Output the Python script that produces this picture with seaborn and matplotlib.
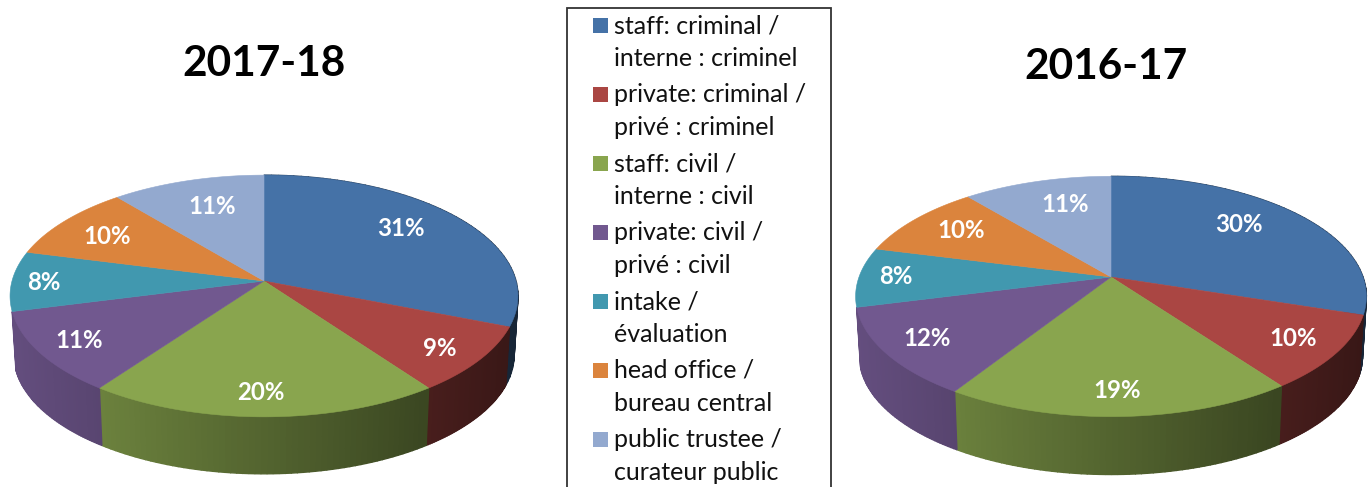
import numpy as np
import matplotlib
matplotlib.use('Agg')
import matplotlib.pyplot as plt
from matplotlib.patches import Rectangle
import seaborn as sns

# values, in percent
years = ['2017-18', '2016-17']
shares_2017 = [31, 9, 20, 11, 8, 10, 11]
shares_2016 = [30, 10, 19, 12, 8, 10, 11]
legend_en = ['staff: criminal /', 'private: criminal /', 'staff: civil /', 'private: civil /',
             'intake /', 'head office /', 'public trustee /']
legend_fr = ['interne : criminel', 'privé : criminel', 'interne : civil', 'privé : civil',
             'évaluation', 'bureau central', 'curateur public']
slice_colors = ['#4572A7', '#AA4643', '#89A54E', '#71588F', '#4198AF', '#DB843D', '#93A9CF']

# label centres in pixels
labels_2017 = [(401, 228), (440, 349), (261, 393), (79, 341), (44, 283), (107, 237), (212, 207)]
labels_2016 = [(1239, 224), (1293, 338), (1117, 391), (927, 338), (896, 277), (961, 231), (1065, 205)]

sns.set_theme(style='white')
plt.rcParams['font.family'] = ['Lato', 'DejaVu Sans']
palette = sns.color_palette(slice_colors)

fig = plt.figure(figsize=(13.69, 4.87), dpi=100)
ax = fig.add_axes([0, 0, 1, 1])
ax.set_xlim(0, 1369)
ax.set_ylim(487, 0)
ax.set_axis_off()


def project(theta, cx, cy, a, b, k, scale=1.0, drop=0.0):
    # tilted disc: angle runs clockwise from 12 o'clock, far side is squeezed
    u = np.sin(theta)
    v = np.cos(theta)
    w = 1 + k * v
    return cx + scale * a * u / w, cy + drop - scale * b * v / w


def pie_3d(shares, cx, cy, a, b, k, drop):
    edges = np.cumsum([0] + list(shares)) / sum(shares) * 2 * np.pi

    # side wall, shaded from left to right; only slices ending before 9 o'clock show one
    for i, color in enumerate(palette):
        if edges[i + 1] > 1.5 * np.pi:
            continue
        thetas = np.linspace(edges[i], edges[i + 1], 60)
        for t0, t1 in zip(thetas[:-1], thetas[1:]):
            x_top, y_top = project(np.array([t0, t1]), cx, cy, a, b, k)
            x_bot, y_bot = project(np.array([t1, t0]), cx, cy, a, b, k, scale=0.985, drop=drop)
            frac = (x_top.mean() - (cx - a)) / (2 * a)
            shade = 0.88 - 0.55 * frac
            c = tuple(np.array(color) * shade)
            ax.fill(np.r_[x_top, x_bot], np.r_[y_top, y_bot], color=c, lw=1.0)

    # top face
    for i, color in enumerate(palette):
        thetas = np.linspace(edges[i], edges[i + 1], 120)
        x, y = project(thetas, cx, cy, a, b, k)
        ax.fill(np.r_[cx, x], np.r_[cy, y], color=color, lw=0.4)


pie_3d(shares_2017, 264, 281, 252, 119, 0.124, 59)
pie_3d(shares_2016, 1111, 277, 252, 117, 0.162, 60)

for shares, spots in zip([shares_2017, shares_2016], [labels_2017, labels_2016]):
    for value, (x, y) in zip(shares, spots):
        ax.text(x, y, f'{value}%', color='white', fontsize=17.3, fontweight='bold',
                ha='center', va='center')

ax.text(264, 64, years[0], fontsize=30.5, fontweight='bold', color='black', ha='center', va='center')
ax.text(1106, 67, years[1], fontsize=30.5, fontweight='bold', color='black', ha='center', va='center')

# what is left of the cropped heading at the top edge
for x, glyph in [(513, 'p'), (830, 'y'), (900, 'p')]:
    ax.text(x, -5, glyph, fontsize=24, fontweight='bold', color='black', ha='center', va='baseline')

# legend box runs off the bottom of the page
ax.add_patch(Rectangle((567, 8), 264, 500, facecolor='white', edgecolor='#333333', lw=1.3, zorder=3))
for i, color in enumerate(palette):
    base = 33 + 69 * i
    ax.add_patch(Rectangle((593, base - 15), 15, 15, facecolor=color, edgecolor='none', zorder=4))
    ax.text(614, base, legend_en[i], fontsize=18, color='#111111', va='baseline', zorder=4)
    ax.text(614, base + 33, legend_fr[i], fontsize=18, color='#111111', va='baseline', zorder=4)

fig.savefig('out.png', dpi=100, facecolor='white')
